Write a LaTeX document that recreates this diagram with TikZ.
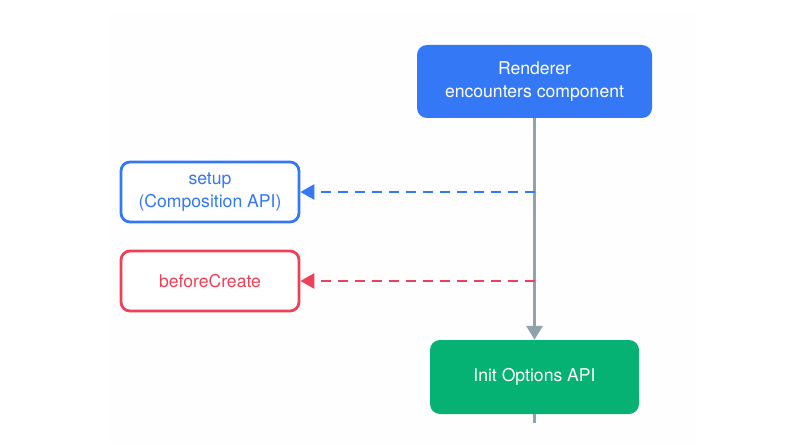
\documentclass[tikz,border=0pt]{standalone}
\usepackage{fontspec}
\setmainfont{TeX Gyre Heros}
\usetikzlibrary{arrows.meta}
\definecolor{vblue}{HTML}{3478F6}
\definecolor{vred}{HTML}{EE4157}
\definecolor{vgreen}{HTML}{05B273}
\definecolor{vgray}{HTML}{90A3AD}
\definecolor{bgfaint}{HTML}{FEFEFE}
\tikzset{
  txt/.style={font=\fontsize{17.6pt}{23pt}\selectfont, align=center, inner sep=0pt},
  filledbox/.style={txt, rounded corners=10pt, text=white, draw=none},
  linebox/.style={txt, rounded corners=9pt, line width=2.8pt, fill=white},
  flow/.style={vgray, line width=3pt, -{Triangle[length=14pt,width=16pt]}},
  hook/.style={line width=2.8pt, dash pattern=on 10pt off 7pt, -{Triangle[length=14pt,width=15pt]}},
}
\begin{document}
\begin{tikzpicture}[x=1pt,y=-1pt]
\useasboundingbox (0,0) rectangle (804,444);
\fill[bgfaint] (108,12) rectangle (697,444);
\node[filledbox, fill=vblue, minimum width=235pt, minimum height=73pt] (render) at (534.5,81.5) {Renderer\\encounters component};
\node[filledbox, fill=vgreen, minimum width=209pt, minimum height=74pt] (init) at (534.5,377) {Init Options API};
\node[linebox, draw=vblue, text=vblue, minimum width=178pt, minimum height=60pt] (setup) at (210,192) {setup\\(Composition API)};
\node[linebox, draw=vred, text=vred, minimum width=178pt, minimum height=60pt] (bc) at (210,281) {beforeCreate};
\coordinate (j1) at (534.5,192);
\coordinate (j2) at (534.5,281);
\coordinate (tail) at (534.5,423);
\draw[flow] (render.south) -- (init.north);
\draw[vgray, line width=3pt] (init.south) -- (tail);
\draw[hook, vblue] (j1) -- (setup.east);
\draw[hook, vred] (j2) -- (bc.east);
\end{tikzpicture}
\end{document}
